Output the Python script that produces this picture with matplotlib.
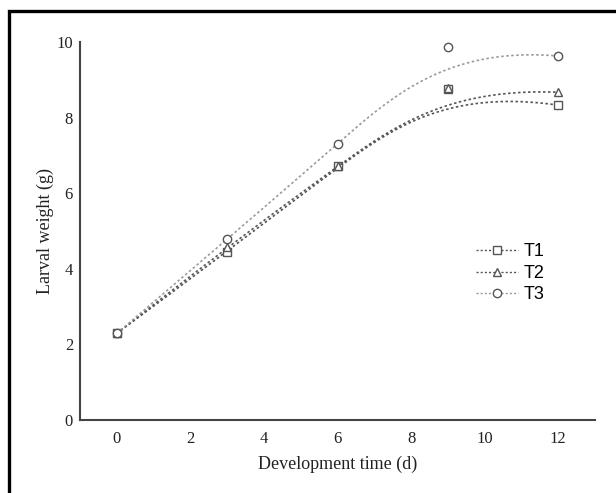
import numpy as np
import matplotlib
matplotlib.use("Agg")
import matplotlib.pyplot as plt
from matplotlib.lines import Line2D
from matplotlib.patches import Rectangle

days = [0, 3, 6, 9, 12]
t1 = [2.29, 4.45, 6.72, 8.75, 8.33]
t2 = [2.29, 4.58, 6.72, 8.79, 8.67]
t3 = [2.29, 4.78, 7.29, 9.88, 9.63]

series = [("T1", t1, "s", "#555555"),
          ("T2", t2, "^", "#555555"),
          ("T3", t3, "o", "#9a9a9a")]


def bspline(px, py, k=3, n=300):
    """Clamped B-spline using the data points as control points."""
    m = len(px)
    inner = np.linspace(0, 1, m - k + 1)[1:-1]
    t = np.concatenate([np.zeros(k + 1), inner, np.ones(k + 1)])
    u = np.linspace(0, 1, n)
    u[-1] = 1 - 1e-12
    # Cox-de Boor basis
    B = np.zeros((n, len(t) - 1))
    for i in range(len(t) - 1):
        B[:, i] = (u >= t[i]) & (u < t[i + 1])
    for d in range(1, k + 1):
        Bn = np.zeros((n, len(t) - 1 - d))
        for i in range(len(t) - 1 - d):
            a = t[i + d] - t[i]
            b = t[i + d + 1] - t[i + 1]
            left = (u - t[i]) / a * B[:, i] if a > 0 else 0
            right = (t[i + d + 1] - u) / b * B[:, i + 1] if b > 0 else 0
            Bn[:, i] = left + right
        B = Bn
    return B @ np.asarray(px, float), B @ np.asarray(py, float)


fig = plt.figure(figsize=(6.16, 4.93), dpi=100)
ax = fig.add_axes([0.1299, 0.1481, 0.836, 0.7667])

handles = []
for name, vals, mk, col in series:
    cx, cy = bspline(days, vals)
    ax.plot(cx, cy, color=col, lw=1.2, ls=(0, (1.5, 1.5)))
    ax.plot(days, vals, ls="none", marker=mk, ms=6, mfc="white",
            mec="#555555", mew=1.0)
    handles.append(Line2D([], [], color=col, lw=1.0, ls=(0, (1.5, 1.5)),
                          marker=mk, ms=6, mfc="white", mec="#555555", mew=1.0))

ax.set_xlim(-1, 13)
ax.set_ylim(0, 10)
ax.set_xticks([0, 2, 4, 6, 8, 10, 12])
ax.set_yticks([0, 2, 4, 6, 8, 10])
for s in ["top", "right"]:
    ax.spines[s].set_visible(False)
for s in ["left", "bottom"]:
    ax.spines[s].set_color("#444444")
    ax.spines[s].set_linewidth(1.5)
ax.tick_params(length=0, labelsize=12, colors="#222222")
ax.tick_params(axis="x", pad=8)
ax.tick_params(axis="y", pad=5)
for lab in ax.get_xticklabels() + ax.get_yticklabels():
    lab.set_family("Liberation Serif")

ax.set_xlabel("Development time (d)", family="Liberation Serif", fontsize=13,
              color="#222222", labelpad=6)
ax.set_ylabel("Larval weight (g)", family="Liberation Serif", fontsize=13,
              color="#222222", labelpad=2)

leg = ax.legend(handles, ["T1", "T2", "T3"], loc="upper left",
                bbox_to_anchor=(0.738, 0.51), frameon=False, handlelength=2.3,
                handletextpad=0.3, labelspacing=0.25,
                prop={"family": "Liberation Sans", "size": 13})

fig.patches.append(Rectangle((9 / 616, -0.1), 1.2, 1.1 - 11 / 493,
                             transform=fig.transFigure, fill=False,
                             edgecolor="black", lw=2.4))

fig.savefig("out.png", dpi=100)
